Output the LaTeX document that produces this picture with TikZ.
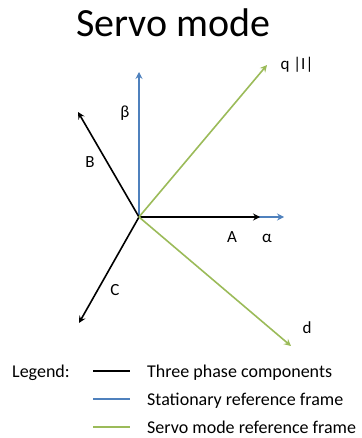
\documentclass[tikz,border=0pt]{standalone}
\usepackage{fontspec}
\setmainfont{Carlito}
\usetikzlibrary{arrows.meta}
\definecolor{axblue}{RGB}{79,129,189}
\definecolor{axgreen}{RGB}{155,187,89}
\tikzset{
  vec/.style={line width=1.6pt,-{Stealth[length=7pt,width=7pt,inset=2.5pt]}},
  phase/.style={vec,draw=black},
  stat/.style={vec,draw=axblue},
  servo/.style={vec,draw=axgreen},
  lbl/.style={font=\fontsize{17}{20}\selectfont,inner sep=0pt},
  leg/.style={font=\fontsize{18}{21}\selectfont,inner sep=0pt,anchor=base west},
  legline/.style={line width=2pt}
}
\begin{document}
\begin{tikzpicture}[x=1pt,y=1pt]
\useasboundingbox (0,0) rectangle (361,-438);
\node[font=\fontsize{40}{46}\selectfont,inner sep=0pt,anchor=base] (title) at (173.5,-37) {Servo mode};
\coordinate (O) at (139,-217);
\coordinate (Ae) at (260,-217);
\coordinate (alphae) at (284,-217);
\coordinate (betae) at (139,-72);
\coordinate (Be) at (78,-112);
\coordinate (Ce) at (79,-323);
\coordinate (qe) at (267,-65);
\coordinate (de) at (291,-346);
\draw[stat] (O) -- (alphae);
\draw[phase] (O) -- (Ae);
\draw[stat] (O) -- (betae);
\draw[phase] (O) -- (Be);
\draw[phase] (O) -- (Ce);
\draw[servo] (O) -- (qe);
\draw[servo] (O) -- (de);
\node[lbl] (lbeta) at (125,-113) {β};
\node[lbl] (lB) at (90,-162) {B};
\node[lbl] (lq) at (297,-65) {q |I|};
\node[lbl] (lA) at (232,-237) {A};
\node[lbl] (lalpha) at (267,-238) {α};
\node[lbl] (lC) at (115,-290) {C};
\node[lbl] (ld) at (307,-328) {d};
\node[leg] (legend) at (12,-377) {Legend:};
\coordinate (l1a) at (93,-371); \coordinate (l1b) at (130,-371);
\coordinate (l2a) at (93,-399); \coordinate (l2b) at (130,-399);
\coordinate (l3a) at (93,-427); \coordinate (l3b) at (130,-427);
\draw[legline,black] (l1a) -- (l1b);
\draw[legline,axblue] (l2a) -- (l2b);
\draw[legline,axgreen] (l3a) -- (l3b);
\node[leg] (t1) at (147,-377) {Three phase components};
\node[leg] (t2) at (147,-405) {Stationary reference frame};
\node[leg] (t3) at (147,-433) {Servo mode reference frame};
\end{tikzpicture}
\end{document}
